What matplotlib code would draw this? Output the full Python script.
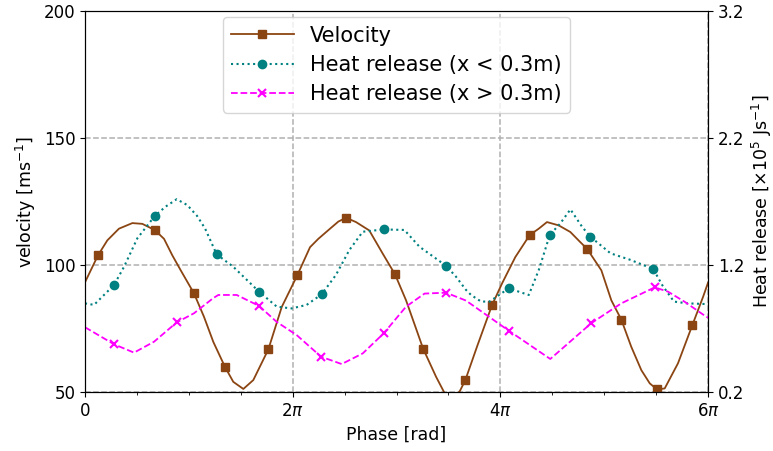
import numpy as np
import matplotlib
matplotlib.use("Agg")
import matplotlib.pyplot as plt

# ---- data (phase in units of pi) ----
vel_phase = [0.0, 0.125, 0.215, 0.327, 0.456, 0.552, 0.674, 0.761, 0.841, 0.922,
             1.050, 1.146, 1.236, 1.348, 1.428, 1.525, 1.621, 1.766, 1.895, 2.044,
             2.167, 2.247, 2.360, 2.440, 2.514, 2.610, 2.738, 2.867, 2.986, 3.092,
             3.188, 3.256, 3.381, 3.460, 3.535, 3.612, 3.663, 3.775, 3.920, 4.016,
             4.144, 4.283, 4.370, 4.449, 4.562, 4.674, 4.770, 4.835, 4.973, 5.069,
             5.165, 5.261, 5.358, 5.439, 5.509, 5.583, 5.711, 5.849, 5.952, 6.0]
velocity = [93.2, 103.8, 109.7, 114.3, 116.5, 116.2, 113.7, 110.3, 103.8, 97.9,
            88.8, 79.6, 69.7, 59.9, 54.0, 51.2, 54.7, 66.8, 83.5, 95.9,
            107.0, 110.3, 114.3, 117.1, 118.6, 116.9, 113.6, 104.5, 96.3, 86.1,
            75.0, 67.1, 56.0, 49.8, 46.5, 50.5, 54.7, 67.8, 84.2, 92.7,
            103.1, 111.8, 114.3, 116.9, 115.6, 113.0, 109.0, 106.4, 97.9, 86.1,
            78.5, 67.8, 58.6, 53.4, 51.0, 51.4, 61.3, 76.3, 87.4, 93.0]
vel_marks = [1, 6, 10, 13, 17, 19, 24, 28, 31, 36, 38, 41, 47, 50, 54, 57]

hr1_phase = [0.000, 0.087, 0.279, 0.376, 0.504, 0.674, 0.777, 0.883, 0.985, 1.080,
             1.156, 1.268, 1.428, 1.676, 1.847, 1.991, 2.135, 2.280, 2.417, 2.546,
             2.675, 2.877, 3.076, 3.221, 3.477, 3.573, 3.669, 3.718, 3.815, 3.896,
             4.081, 4.274, 4.370, 4.476, 4.578, 4.675, 4.788, 4.868, 5.061, 5.254,
             5.473, 5.559, 5.672, 5.800, 6.000]
heat_low = [0.898, 0.886, 1.042, 1.186, 1.410, 1.588, 1.660, 1.718, 1.672, 1.586,
            1.488, 1.284, 1.186, 0.990, 0.872, 0.858, 0.886, 0.970, 1.122, 1.318,
            1.462, 1.480, 1.476, 1.344, 1.194, 1.108, 1.004, 0.964, 0.912, 0.912,
            1.016, 0.964, 1.160, 1.436, 1.528, 1.638, 1.500, 1.422, 1.292, 1.240,
            1.168, 1.042, 0.912, 0.898, 0.892]
hr1_marks = [2, 5, 11, 13, 17, 21, 24, 30, 33, 37, 40]

hr2_phase = [0.000, 0.279, 0.472, 0.665, 0.883, 1.050, 1.233, 1.284, 1.461, 1.676,
             1.846, 2.039, 2.273, 2.472, 2.675, 2.877, 3.092, 3.270, 3.477, 3.669,
             4.079, 4.481, 4.876, 5.165, 5.487, 5.615, 5.776, 5.984, 6.000]
heat_high = [0.710, 0.576, 0.510, 0.596, 0.748, 0.820, 0.938, 0.964, 0.964, 0.878,
             0.752, 0.648, 0.478, 0.420, 0.504, 0.662, 0.872, 0.975, 0.982, 0.920,
             0.684, 0.460, 0.742, 0.898, 1.024, 0.990, 0.910, 0.792, 0.786]
hr2_marks = [1, 4, 9, 12, 15, 18, 20, 22, 24]

xtick_pos = [0, 2, 4, 6]
xtick_labels = ['0', r'$2\pi$', r'$4\pi$', r'$6\pi$']
ytick_left = [50, 100, 150, 200]
ytick_right = [0.2, 1.2, 2.2, 3.2]

# ---- figure ----
fig = plt.figure(figsize=(7.73, 4.51), dpi=100)
ax = fig.add_axes([85/773, 59/451, 623/773, 381/451])
ax2 = ax.twinx()

l1, = ax.plot(np.array(vel_phase) * np.pi, velocity, color='#8B4513', lw=1.3,
              marker='s', ms=6, markevery=vel_marks, label='Velocity')
l2, = ax2.plot(np.array(hr1_phase) * np.pi, heat_low, color='#008080', lw=1.5,
               ls=':', marker='o', ms=6, markevery=hr1_marks,
               label='Heat release (x < 0.3m)')
l3, = ax2.plot(np.array(hr2_phase) * np.pi, heat_high, color='#FF00FF', lw=1.3,
               ls='--', marker='x', ms=6, mew=1.5, markevery=hr2_marks,
               label='Heat release (x > 0.3m)')

ax.set_xlim(0, 6 * np.pi)
ax.set_ylim(50, 200)
ax2.set_ylim(0.2, 3.2)
ax.set_xticks(np.array(xtick_pos) * np.pi)
ax.set_xticklabels(xtick_labels)
ax.set_xticks(np.arange(0, 6.01, 0.5) * np.pi, minor=True)
ax.set_yticks(ytick_left)
ax2.set_yticks(ytick_right)
ax2.set_yticklabels([f'{v:.1f}' for v in ytick_right])

ax.tick_params(labelsize=12)
ax2.tick_params(labelsize=12)
ax.grid(True, color='#b0b0b0', ls='--', lw=1.1)

ax.set_xlabel('Phase [rad]', fontsize=12.5)
ax.set_ylabel(r'velocity [ms$^{-1}$]', fontsize=12.5)
ax2.set_ylabel(r'Heat release [$\times10^5$ Js$^{-1}$]', fontsize=12.5)

ax2.legend(handles=[l1, l2, l3], loc='upper center', fontsize=15,
           numpoints=1, handlelength=3, borderaxespad=0.3, labelspacing=0.45)

fig.savefig('out.png', dpi=100)
